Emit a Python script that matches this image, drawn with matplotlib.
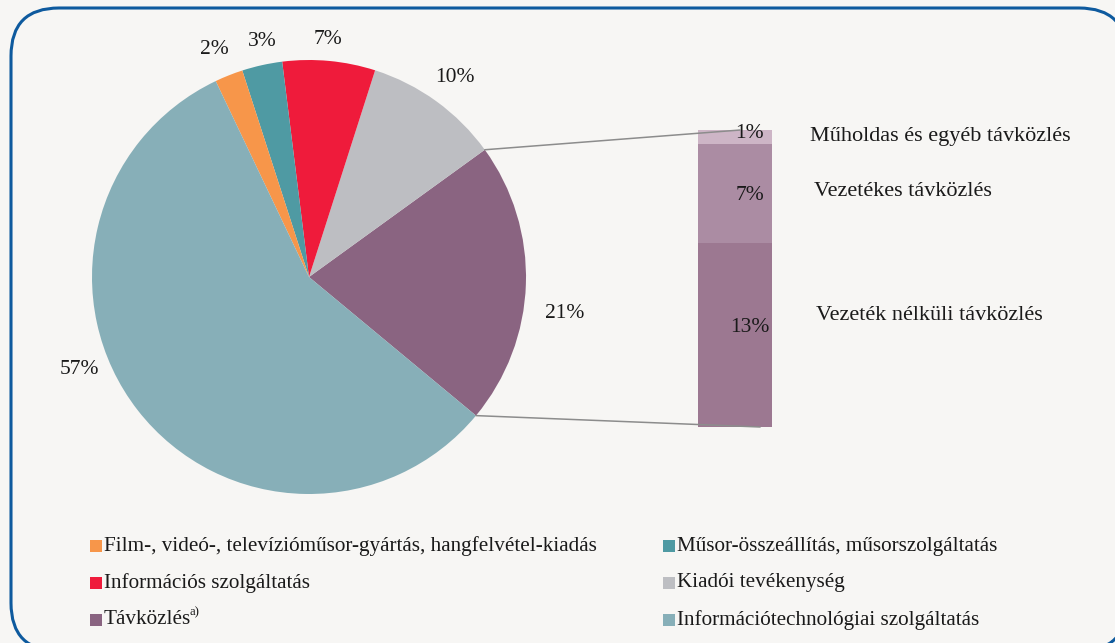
import matplotlib as mpl
import matplotlib.pyplot as plt
from matplotlib.patches import FancyBboxPatch, Rectangle, ConnectionPatch
import numpy as np

mpl.rcParams['font.family'] = 'Liberation Serif'

# pie data, drawn counterclockwise starting from the Távközlés slice
pie_names = ['Távközlés', 'Kiadói tevékenység', 'Információs szolgáltatás',
             'Műsor-összeállítás, műsorszolgáltatás',
             'Film-, videó-, televízióműsor-gyártás, hangfelvétel-kiadás',
             'Információtechnológiai szolgáltatás']
pie_values = [21.0, 10.1, 6.9, 3.0, 2.1, 56.9]
pie_labels = ['21%', '10%', '7%', '3%', '2%', '57%']
pie_colors = ['#8a6481', '#bdbec2', '#ef1b3b', '#4f9aa3', '#f7964a', '#87afb8']

# breakdown of Távközlés (bottom to top)
bar_names = ['Vezeték nélküli távközlés', 'Vezetékes távközlés', 'Műholdas és egyéb távközlés']
bar_values = [13.0, 7.0, 1.0]
bar_labels = ['13%', '7%', '1%']
bar_colors = ['#9c7891', '#ab8ca3', '#cdb5c6']

# legend order (row by row)
legend_names = ['Film-, videó-, televízióműsor-gyártás, hangfelvétel-kiadás',
                'Műsor-összeállítás, műsorszolgáltatás',
                'Információs szolgáltatás', 'Kiadói tevékenység',
                'Távközlés', 'Információtechnológiai szolgáltatás']

W, H = 1115, 643
fig = plt.figure(figsize=(W / 100, H / 100), dpi=100)
fig.patch.set_facecolor('#f7f6f4')
ax = fig.add_axes([0, 0, 1, 1])

frame = FancyBboxPatch((11, -8), 1116, 643, boxstyle='round,pad=0,rounding_size=48',
                       fc='#f7f6f4', ec='#0e5a9e', lw=2.2, zorder=0)
ax.add_patch(frame)

txt = '#1a1a1a'
fs = 15.5
fs_leg = 15.2

wedges, _ = ax.pie(pie_values, colors=pie_colors, startangle=-39.7, counterclock=True,
                   center=(309, 366), radius=217, frame=True,
                   wedgeprops=dict(linewidth=0))

# label positions (px, from top)
pie_label_xy = [(565, 313), (455, 78), (328, 40), (262, 42), (214, 50), (79, 370)]
for lab, (x, y) in zip(pie_labels, pie_label_xy):
    ax.text(x, H - y, lab, ha='center', va='center', fontsize=fs, color=txt)

ax.set_xlim(0, W)
ax.set_ylim(0, H)
ax.set_aspect('equal')
ax.axis('off')

# stacked bar
bax = fig.add_axes([698 / W, (H - 427) / H, 74 / W, 297 / H])
bottom = 0
for v, c in zip(bar_values, bar_colors):
    bax.bar(0, v, width=1, bottom=bottom, color=c, linewidth=0)
    bottom += v
bax.set_xlim(-0.5, 0.5)
bax.set_ylim(0, sum(bar_values))
bax.axis('off')

bottom = 0
bar_label_dy = [0.5, -0.1, 0.25]
for v, lab, dy in zip(bar_values, bar_labels, bar_label_dy):
    bax.text(0.2, bottom + v / 2 + dy, lab, ha='center', va='center',
             fontsize=fs, color=txt)
    bottom += v

name_xy = [(816, 316), (814, 191), (810, 137)]
for name, (x, y) in zip(bar_names, name_xy):
    ax.text(x, H - y, name, ha='left', va='center', fontsize=16, color=txt)

# connector lines from the Távközlés wedge to the bar
w = wedges[0]
cx, cy = w.center
r = w.r
p_top = (cx + r * np.cos(np.radians(w.theta2)), cy + r * np.sin(np.radians(w.theta2)))
p_bot = (cx + r * np.cos(np.radians(w.theta1)), cy + r * np.sin(np.radians(w.theta1)))
for p, q in [(p_top, (0.07, sum(bar_values))), (p_bot, (0.34, 0))]:
    con = ConnectionPatch(xyA=p, coordsA=ax.transData, xyB=q, coordsB=bax.transData,
                          color='#8c8c8c', lw=1.1, zorder=5)
    fig.add_artist(con)

# legend
col_x = [90, 663]
row_y = [546, 583, 620]
color_of = dict(zip(pie_names, pie_colors))
for i, name in enumerate(legend_names):
    x = col_x[i % 2]
    y = H - row_y[i // 2]
    ax.add_patch(Rectangle((x, y - 6), 12, 12, fc=color_of[name], ec='none'))
    t = ax.text(x + 14, y, name, ha='left', va='center', fontsize=fs_leg, color=txt)
    if name == 'Távközlés':
        ax.annotate('a)', xy=(1, 0.6), xycoords=t, xytext=(-1.5, 0),
                    textcoords='offset points', ha='left', va='bottom',
                    fontsize=fs_leg * 0.6, color=txt)

fig.savefig('out.png', dpi=100, facecolor=fig.get_facecolor())
